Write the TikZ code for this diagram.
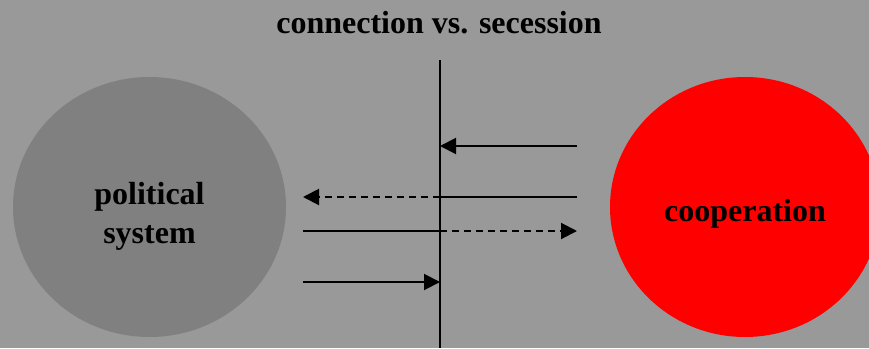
\documentclass[tikz,border=0pt]{standalone}
\usepackage{fontspec}
\setmainfont{Liberation Serif}
\usetikzlibrary{shapes.geometric,arrows.meta}
\definecolor{bggray}{HTML}{999999}
\definecolor{polgray}{HTML}{808080}
\definecolor{coopred}{HTML}{FF0000}

\begin{document}
\begin{tikzpicture}[x=1pt,y=-1pt, >={Triangle[length=16pt,width=16pt]},
	line width=2pt,
	blob/.style={ellipse, inner sep=0pt, align=center,
	font=\bfseries\fontsize{32}{39}\selectfont},
	flow/.style={dash pattern=on 7pt off 5pt}]

\fill[bggray] (0,0) rectangle (869,348);
\useasboundingbox (0,0) rectangle (869,348);
\clip (0,0) rectangle (869,348);

\node[font=\bfseries\fontsize{32}{37}\selectfont, anchor=base] (title) at (439,33) {connection vs. secession};

\node[blob, fill=polgray, minimum width=273pt, minimum height=260pt, text height=80pt] (pol) at (149.5,207) {political\\system};
\node[blob, fill=coopred, minimum width=270pt, minimum height=260pt, text height=35pt, text depth=7pt] (coop) at (745,207) {cooperation};

\coordinate (wall top) at (440,60);
\coordinate (wall bottom) at (440,348);
\draw (wall top) -- (wall bottom);

\coordinate (r1) at (577,146);  \coordinate (w1) at (440,146);
\coordinate (r2) at (577,197);  \coordinate (w2) at (440,197);  \coordinate (l2) at (303,197);
\coordinate (l3) at (303,231);  \coordinate (w3) at (440,231);  \coordinate (r3) at (577,231);
\coordinate (l4) at (303,282);  \coordinate (w4) at (440,282);

\draw[->] (r1) -- (w1);
\draw (r2) -- (w2);
\draw[->,flow] (w2) -- (l2);
\draw (l3) -- (w3);
\draw[->,flow] (w3) -- (r3);
\draw[->] (l4) -- (w4);
\end{tikzpicture}
\end{document}
